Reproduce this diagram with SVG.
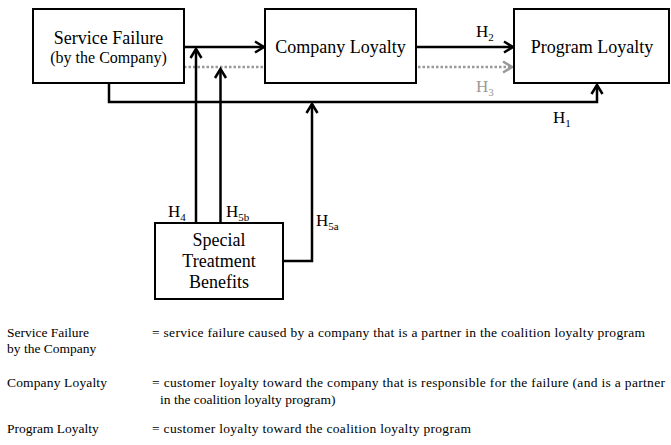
<svg xmlns="http://www.w3.org/2000/svg" width="671" height="445" viewBox="0 0 671 445">
<style>
.box{fill:#fff;stroke:#000;stroke-width:2}
text{font-family:'Liberation Serif',Tinos,'Times New Roman','DejaVu Serif',serif;fill:#000}
.bt{font-size:18px;text-anchor:middle}
.lbl{font-size:17px}
.leg{font-size:13.5px}
.ln{fill:none;stroke:#000;stroke-width:2.5}
.dot{fill:none;stroke:#999;stroke-width:2.5;stroke-dasharray:2.5 2}
</style>
<defs>
<marker id="ah" markerUnits="userSpaceOnUse" markerWidth="14" markerHeight="14" refX="0" refY="0" viewBox="-12 -7 14 14" orient="auto" overflow="visible">
<path d="M-9,-5.5 L0,0 L-9,5.5" fill="none" stroke="#000" stroke-width="2.5"/>
</marker>
<marker id="ahg" markerUnits="userSpaceOnUse" markerWidth="14" markerHeight="14" refX="0" refY="0" viewBox="-12 -7 14 14" orient="auto" overflow="visible">
<path d="M-9,-5.5 L0,0 L-9,5.5" fill="none" stroke="#999" stroke-width="2.5"/>
</marker>
</defs>
<g id="connectors">
<path class="dot" d="M184,67 H512" marker-end="url(#ahg)"/>
<path class="ln" d="M184,47 H264" marker-end="url(#ah)"/>
<path class="ln" d="M416,47 H513" marker-end="url(#ah)"/>
<path class="ln" d="M109,83 V102 H597 V85" marker-end="url(#ah)"/>
<path class="ln" d="M196,223 V49" marker-end="url(#ah)"/>
<path class="ln" d="M220.5,223 V69" marker-end="url(#ah)"/>
<path class="ln" d="M283,261 H312 V104" marker-end="url(#ah)"/>
</g>
<g id="service-failure">
<rect class="box" x="33" y="9" width="151" height="74"/>
<text class="bt" x="108.5" y="44" font-family="Liberation Serif, serif">Service Failure</text>
<text class="bt" x="108.5" y="63" font-family="Liberation Serif, serif" style="font-size:16px">(by the Company)</text>
</g>
<g id="company-loyalty">
<rect class="box" x="265" y="9" width="151" height="74"/>
<text class="bt" x="340.5" y="53" font-family="Liberation Serif, serif">Company Loyalty</text>
</g>
<g id="program-loyalty">
<rect class="box" x="514" y="9" width="155" height="74"/>
<text class="bt" x="592" y="53" font-family="Liberation Serif, serif">Program Loyalty</text>
</g>
<g id="special-treatment">
<rect class="box" x="155" y="223" width="128" height="76"/>
<text class="bt" x="219" y="246" font-family="Liberation Serif, serif">Special</text>
<text class="bt" x="219" y="267" font-family="Liberation Serif, serif">Treatment</text>
<text class="bt" x="219" y="288" font-family="Liberation Serif, serif">Benefits</text>
</g>
<g id="labels">
<text class="lbl" x="476" y="37">H<tspan font-size="11" dy="4">2</tspan></text>
<text class="lbl" x="476" y="92" style="fill:#999">H<tspan font-size="11" dy="4">3</tspan></text>
<text class="lbl" x="553" y="123">H<tspan font-size="11" dy="4">1</tspan></text>
<text class="lbl" x="168" y="217">H<tspan font-size="11" dy="4">4</tspan></text>
<text class="lbl" x="226" y="217">H<tspan font-size="11" dy="4">5b</tspan></text>
<text class="lbl" x="316" y="226">H<tspan font-size="11" dy="4">5a</tspan></text>
</g>
<g id="legend">
<text class="leg" x="7" y="337">Service Failure</text>
<text class="leg" x="7" y="353">by the Company</text>
<text class="leg" x="152" y="337" textLength="493" lengthAdjust="spacing">= service failure caused by a company that is a partner in the coalition loyalty program</text>
<text class="leg" x="7" y="387" textLength="100" lengthAdjust="spacing">Company Loyalty</text>
<text class="leg" x="152" y="387" textLength="513" lengthAdjust="spacing">= customer loyalty toward the company that is responsible for the failure (and is a partner</text>
<text class="leg" x="160" y="404">in the coalition loyalty program)</text>
<text class="leg" x="7" y="433">Program Loyalty</text>
<text class="leg" x="152" y="433" textLength="319" lengthAdjust="spacing">= customer loyalty toward the coalition loyalty program</text>
</g>
</svg>
